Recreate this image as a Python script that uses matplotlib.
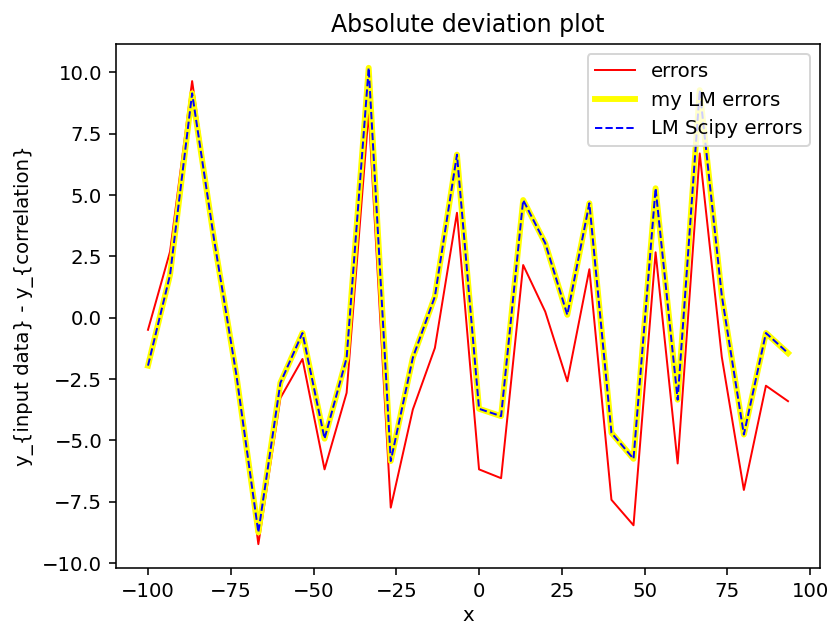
import numpy as np
import matplotlib
matplotlib.use("Agg")
import matplotlib.pyplot as plt

x = np.arange(30) * (20.0 / 3.0) - 100.0

errors = [-0.49, 2.70, 9.65, 3.30, -2.10, -9.23, -3.27, -1.68, -6.18, -3.06,
          8.40, -7.74, -3.74, -1.23, 4.28, -6.18, -6.54, 2.15, 0.25, -2.59,
          1.98, -7.42, -8.46, 2.67, -5.94, 6.70, -1.60, -7.02, -2.77, -3.40]
my_lm_errors = [-1.95, 1.75, 9.15, 3.15, -2.30, -8.75, -2.65, -0.62, -4.93, -1.64,
                10.19, -5.84, -1.63, 0.87, 6.65, -3.71, -4.01, 4.80, 3.04, 0.12,
                4.67, -4.69, -5.75, 5.28, -3.34, 9.28, 0.90, -4.76, -0.62, -1.44]
scipy_lm_errors = list(my_lm_errors)

DPI = 142
W, H = 828, 626
fig = plt.figure(figsize=(W / DPI, H / DPI), dpi=DPI)
left, right, top, bottom = 116, 820, 44, 568
ax = fig.add_axes([left / W, 1 - bottom / H, (right - left) / W, (bottom - top) / H])

ax.plot(x, errors, color="red", lw=1, label="errors")
ax.plot(x, my_lm_errors, color="yellow", lw=3, label="my LM errors")
ax.plot(x, scipy_lm_errors, color="blue", lw=1, ls="--", label="LM Scipy errors")

ax.set_title("Absolute deviation plot")
ax.set_xlabel("x", labelpad=2.5)
ax.set_ylabel("y_{input data} - y_{correlation}")
ax.legend(loc="upper right")

fig.savefig("out.png", dpi=DPI)
